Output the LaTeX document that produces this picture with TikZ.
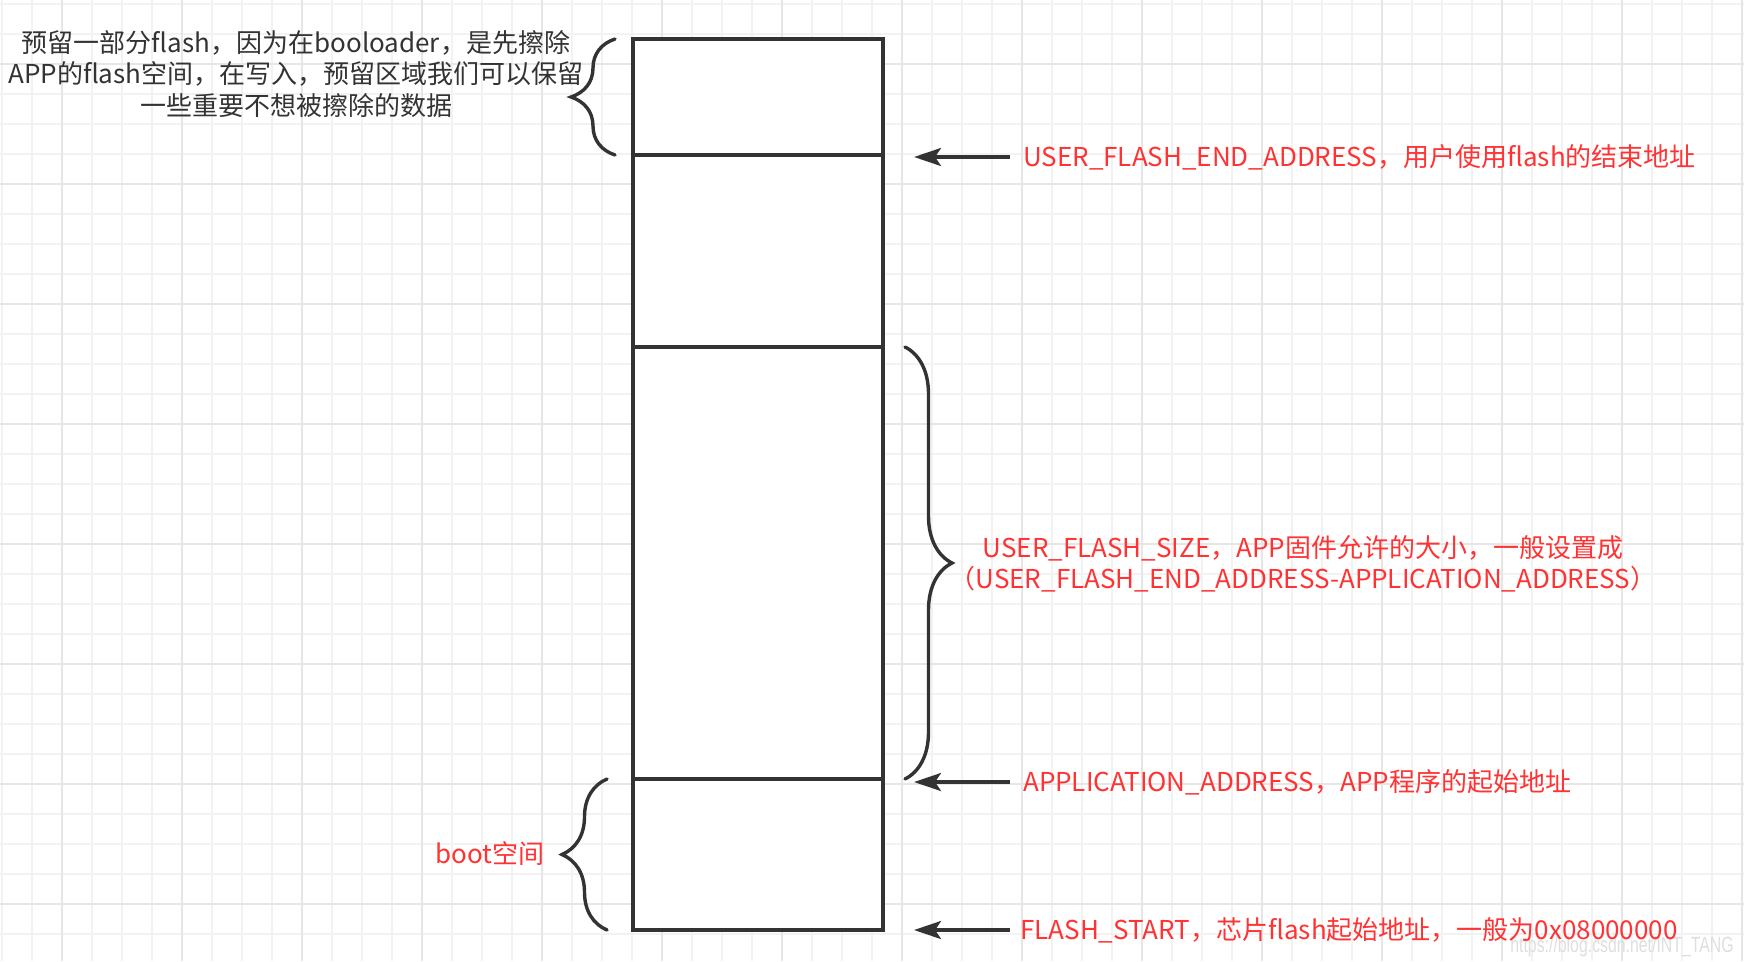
\documentclass[tikz,border=0pt]{standalone}
\usepackage{fontspec}
\setmainfont{Noto Sans CJK SC}
\newfontfamily\markfont{Liberation Sans}
\usetikzlibrary{positioning}
\usetikzlibrary{arrows.meta}
\usetikzlibrary{decorations.pathreplacing}
\definecolor{ink}{HTML}{333333}
\definecolor{note}{HTML}{FF3333}
\definecolor{thingrid}{HTML}{F2F2F2}
\definecolor{thickgrid}{HTML}{E6E6E6}

\begin{document}
\begin{tikzpicture}[x=1pt,y=-1pt,
    block/.style={draw=ink, line width=3.4pt, fill=white, minimum width=250pt, outer sep=0pt, inner sep=0pt},
    curly/.style={draw=ink, line width=3.4pt, line cap=round, decorate, decoration={brace, amplitude=#1}},
    ptr/.style={draw=ink, line width=3.4pt, -{Stealth[length=27pt, width=18pt, inset=6pt]}},
    redtxt/.style={text=note, font=\fontsize{26}{31.5}\selectfont},
    greytxt/.style={text=ink, font=\fontsize{26}{31.5}\selectfont}]
    \useasboundingbox (0,0) rectangle (1744,961);

    % background grid
    \foreach \gx in {1.7,31.7,...,1744} \draw[thingrid, line width=2pt] (\gx,0) -- (\gx,961);
    \foreach \gy in {3.5,33.5,...,961} \draw[thingrid, line width=2pt] (0,\gy) -- (1744,\gy);
    \foreach \gx in {61.7,181.7,...,1744} \draw[thickgrid, line width=2pt] (\gx,0) -- (\gx,961);
    \foreach \gy in {63.5,183.5,...,961} \draw[thickgrid, line width=2pt] (0,\gy) -- (1744,\gy);

    % flash blocks
    \node[block, minimum height=116pt] (resv) at (758,97) {};
    \node[block, minimum height=192pt, below=0pt of resv] (free) {};
    \node[block, minimum height=432pt, below=0pt of free] (app) {};
    \node[block, minimum height=151pt, below=0pt of app] (boot) {};

    \draw[curly=44pt] ([xshift=-18pt]resv.south west) -- ([xshift=-18pt]resv.north west);
    \draw[curly=47pt] ([xshift=22pt]app.north east) -- ([xshift=22pt]app.south east);
    \draw[curly=45pt] ([xshift=-26pt]boot.south west) -- ([xshift=-26pt]boot.north west);

    \coordinate (endtip) at ([xshift=31pt, yshift=-2pt]resv.south east);
    \coordinate (apptip) at ([xshift=31pt, yshift=-3pt]app.south east);
    \coordinate (starttip) at ([xshift=31pt]boot.south east);

    \node[text=black!13, font=\markfont\fontsize{22}{26}\selectfont] (mark) at (1622,947) {\scalebox{0.72}[1]{https://blog.csdn.net/INT\_TANG}};

    \node[redtxt, right=96pt of endtip, inner xsep=13pt] (endlbl) {USER\_FLASH\_END\_ADDRESS，用户使用flash的结束地址};
    \node[redtxt, right=96pt of apptip, inner xsep=13pt] (applbl) {APPLICATION\_ADDRESS，APP程序的起始地址};
    \node[redtxt, right=96pt of starttip, inner xsep=10pt] (startlbl) {FLASH\_START，芯片flash起始地址，一般为0x08000000};
    \node[redtxt, align=center] (sizelbl) at (1303,564) {USER\_FLASH\_SIZE，APP固件允许的大小，一般设置成\\（USER\_FLASH\_END\_ADDRESS-APPLICATION\_ADDRESS）};
    \node[greytxt, align=center] (resvlbl) at (296,74) {预留一部分flash，因为在booloader，是先擦除\\APP的flash空间，在写入，预留区域我们可以保留\\一些重要不想被擦除的数据};
    \node[redtxt] (bootlbl) at (490,854) {boot空间};

    \draw[ptr] (endlbl) -- (endtip);
    \draw[ptr] (applbl) -- (apptip);
    \draw[ptr] (startlbl) -- (starttip);
\end{tikzpicture}
\end{document}
